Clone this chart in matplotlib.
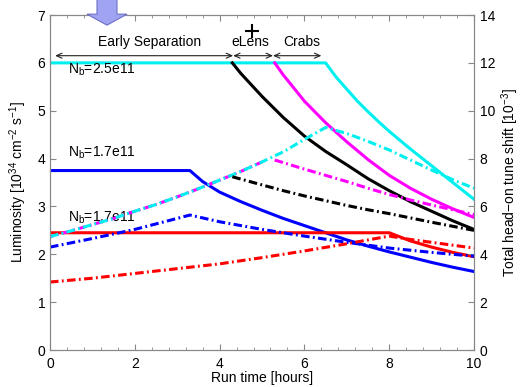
import matplotlib
matplotlib.use("Agg")
import matplotlib.pyplot as plt
from matplotlib.patches import FancyArrow
from matplotlib.ticker import MultipleLocator

plt.rcParams['font.family'] = ['Liberation Sans', 'DejaVu Sans']
plt.rcParams['font.size'] = 10
plt.rcParams['mathtext.fontset'] = 'custom'
plt.rcParams['mathtext.rm'] = 'Liberation Sans'
plt.rcParams['mathtext.it'] = 'Liberation Sans'

# luminosity [1e34 cm^-2 s^-1], left axis
cyan_t = [0, 6.5, 6.75, 7, 7.25, 7.5, 7.75, 8, 8.5, 9, 9.5, 10]
cyan_lumi = [6.0, 6.0, 5.7, 5.45, 5.2, 4.98, 4.77, 4.57, 4.2, 3.85, 3.5, 3.15]
black_t = [4.3, 4.5, 5, 5.5, 6, 6.5, 7, 7.5, 8, 8.5, 9, 9.5, 10]
black_lumi = [6.0, 5.78, 5.3, 4.86, 4.47, 4.15, 3.87, 3.58, 3.33, 3.1, 2.9, 2.7, 2.52]
mag_t = [5.3, 5.5, 6, 6.5, 7, 7.5, 8, 8.5, 9, 9.5, 10]
mag_lumi = [6.0, 5.75, 5.2, 4.75, 4.35, 3.98, 3.65, 3.38, 3.15, 2.95, 2.77]
blue_t = [0, 3.3, 3.6, 4, 4.5, 5, 5.5, 6, 6.5, 7, 7.5, 8, 8.5, 9, 9.5, 10]
blue_lumi = [3.75, 3.75, 3.52, 3.3, 3.1, 2.92, 2.75, 2.6, 2.45, 2.3, 2.17, 2.05, 1.94,
             1.83, 1.73, 1.64]
red_t = [0, 8, 8.5, 9, 9.5, 10]
red_lumi = [2.45, 2.45, 2.28, 2.15, 2.04, 1.95]

# total head-on tune shift [1e-3], right axis
cyan_tt = [0, 0.5, 1, 1.5, 2, 2.5, 3, 3.5, 4, 4.5, 5, 5.5, 6, 6.5,
           7, 7.5, 8, 8.5, 9, 9.5, 10]
cyan_tune = [4.74, 4.98, 5.24, 5.5, 5.8, 6.08, 6.4, 6.74, 7.1, 7.46, 7.86, 8.28, 8.8, 9.3,
             9.05, 8.72, 8.36, 7.94, 7.52, 7.12, 6.76]
black_tt = [4.3, 5, 5.5, 6, 6.5, 7, 7.5, 8, 8.5, 9, 9.5, 10]
black_tune = [7.24, 6.9, 6.66, 6.44, 6.24, 6.04, 5.86, 5.7, 5.52, 5.34, 5.17, 5.0]
mag_tt = [5.3, 6, 6.5, 7, 7.5, 8, 8.5, 9, 9.5, 10]
mag_tune = [7.94, 7.56, 7.3, 7.04, 6.76, 6.5, 6.27, 6.06, 5.86, 5.66]
blue_tt = [0, 1, 2, 3, 3.3, 4, 5, 6, 7, 8, 9, 10]
blue_tune = [4.3, 4.66, 5.04, 5.5, 5.64, 5.36, 5.04, 4.76, 4.5, 4.26, 4.08, 3.92]
red_tt = [0, 1, 2, 3, 4, 5, 6, 7, 8, 8.5, 9, 9.5, 10]
red_tune = [2.84, 3.0, 3.2, 3.4, 3.6, 3.86, 4.14, 4.44, 4.76, 4.62, 4.5, 4.38, 4.26]

CY, MG, BL, RD = '#00f0f0', '#ff00ff', '#0000ff', '#ff0000'
lw = 2.2
dd = (0, (2.8, 1.1, 0.6, 1.1))

fig = plt.figure(figsize=(5.23, 3.87), dpi=100)
ax = fig.add_axes([0.0956, 0.0956, 0.8107, 0.8656])
ax2 = ax.twinx()

# dash-dot (tune shift) on right axis
ax2.plot(cyan_tt[:11], cyan_tune[:11], color=MG, lw=lw, ls=(1.6, (2.8, 1.1, 0.6, 1.1)))
ax2.plot(cyan_tt, cyan_tune, color=CY, lw=lw, ls=dd)
ax2.plot(mag_tt, mag_tune, color=MG, lw=lw, ls=dd)
ax2.plot(black_tt, black_tune, color='k', lw=lw, ls=dd)
ax2.plot(blue_tt, blue_tune, color=BL, lw=lw, ls=dd)
ax2.plot(red_tt, red_tune, color=RD, lw=lw, ls=dd)

# solid (luminosity) on left axis
ax.plot(cyan_t, cyan_lumi, color=CY, lw=lw)
ax.plot(black_t, black_lumi, color='k', lw=lw)
ax.plot(mag_t, mag_lumi, color=MG, lw=lw)
ax.plot(blue_t, blue_lumi, color=BL, lw=lw)
ax.plot(red_t, red_lumi, color=RD, lw=lw)

ax.set_xlim(0, 10)
ax.set_ylim(0, 7)
ax2.set_ylim(0, 14)
ax.set_xticks(range(0, 11, 2))
ax.xaxis.set_minor_locator(MultipleLocator(0.4))
ax.set_yticks(range(0, 8))
ax2.set_yticks(range(0, 15, 2))

for a in (ax, ax2):
    for s in a.spines.values():
        s.set_color('#888888')
ax.tick_params(which='both', direction='in', top=True, color='#888888', labelsize=10)
ax.tick_params(which='major', length=4)
ax.tick_params(which='minor', length=2.5)
ax.tick_params(axis='x', pad=5)
ax2.tick_params(direction='in', color='#888888', length=4, labelsize=10, pad=4)

ax.set_xlabel('Run time [hours]', labelpad=0)
ax.set_ylabel(r'Luminosity [10$^{34}$ cm$^{-2}$ s$^{-1}$]', labelpad=6)
ax2.set_ylabel(r'Total head$-$on tune shift [10$^{-3}$]', labelpad=3)

# phase annotations
arr = dict(arrowstyle='<->,head_length=0.4,head_width=0.18', color='#222222', lw=0.8,
           shrinkA=0, shrinkB=0)
y_arr = 6.15
ax.annotate('', xy=(0.12, y_arr), xytext=(4.32, y_arr), arrowprops=arr)
ax.annotate('', xy=(4.32, y_arr), xytext=(5.26, y_arr), arrowprops=arr)
ax.annotate('', xy=(5.26, y_arr), xytext=(6.4, y_arr), arrowprops=arr)
ax.text(2.36, 6.43, 'Early Separation', ha='center', va='center')
ax.text(4.72, 6.43, 'eLens', ha='center', va='center')
ax.text(5.93, 6.43, 'Crabs', ha='center', va='center')
ax.plot([4.77], [6.66], marker='+', color='k', ms=10, mew=1.5, clip_on=False)

ax.text(0.43, 5.86, r'N$_\mathrm{b}$=2.5e11', ha='left', va='center')
ax.text(0.43, 4.12, r'N$_\mathrm{b}$=1.7e11', ha='left', va='center')
ax.text(0.43, 2.76, r'N$_\mathrm{b}$=1.7e11', ha='left', va='center')

# big arrow above the plot
fig.patches.append(FancyArrow(107 / 523, 1.02, 0, 0.935 - 1.02, width=20 / 523,
                              head_width=40 / 523, head_length=11 / 387,
                              length_includes_head=True, transform=fig.transFigure,
                              facecolor='#a0a2f2', edgecolor='#6e70c8', lw=0.8))

fig.savefig('out.png', dpi=100)
